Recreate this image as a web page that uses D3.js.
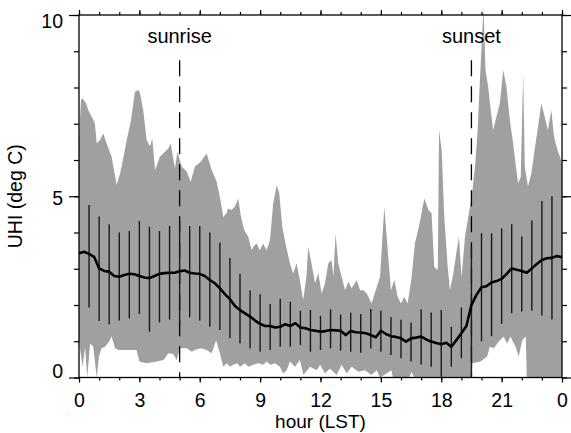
<!doctype html>
<html>
<head>
<meta charset="utf-8">
<script src="https://d3js.org/d3.v7.min.js"></script>
<style>
  body { margin: 0; background: #fff; }
  text { font-family: "Liberation Sans", Arial, sans-serif; fill: #000; }
</style>
</head>
<body>
<script>
// max of the range (top of grey band)
var upperHour = [0, 0.1, 0.18, 0.35, 0.46, 0.63, 0.79, 0.88, 1.04, 1.21, 1.37, 1.62, 1.87, 2.04, 2.12, 2.37, 2.57, 2.78, 2.95, 3.03,
  3.19, 3.36, 3.53, 3.64, 3.78, 4.02, 4.27, 4.44, 4.55, 4.77, 4.89, 5.1, 5.35, 5.55, 5.76, 6.05, 6.34, 6.59, 6.84, 7.0,
  7.17, 7.33, 7.41, 7.58, 7.74, 7.91, 8.05, 8.21, 8.41, 8.58, 8.66, 8.82, 8.99, 9.15, 9.32, 9.49, 9.65, 9.82, 9.95, 10.1,
  10.26, 10.48, 10.64, 10.81, 10.97, 11.14, 11.3, 11.39, 11.55, 11.73, 11.89, 12.06, 12.22, 12.39, 12.55, 12.64, 12.75, 12.88, 13.05, 13.22,
  13.38, 13.55, 13.8, 13.97, 14.13, 14.3, 14.54, 14.74, 14.96, 15.17, 15.34, 15.5, 15.67, 15.83, 16.0, 16.16, 16.33, 16.53, 16.69, 16.89,
  17.16, 17.36, 17.52, 17.65, 17.77, 17.83, 17.89, 18.02, 18.15, 18.32, 18.43, 18.6, 18.77, 18.88, 19.01, 19.18, 19.34, 19.51, 19.68, 19.81,
  19.93, 20.01, 20.1, 20.2, 20.33, 20.46, 20.58, 20.74, 20.91, 21.08, 21.24, 21.41, 21.57, 21.69, 21.82, 21.95, 22.07, 22.15, 22.31, 22.48,
  22.64, 22.81, 22.97, 23.14, 23.3, 23.47, 23.6, 23.77, 23.9, 24];
var upperVal = [6.6, 7.66, 7.7, 7.56, 7.38, 7.19, 7.01, 6.46, 6.55, 6.73, 6.46, 6.09, 5.31, 5.63, 5.82, 6.55, 7.05, 7.88, 7.93, 7.84,
  7.38, 6.55, 6.37, 6.6, 5.72, 6.09, 6.23, 6.32, 6.46, 5.77, 6.23, 5.82, 5.68, 5.4, 5.82, 5.95, 6.18, 5.73, 5.4, 4.98,
  4.43, 4.53, 4.66, 4.62, 4.71, 4.94, 4.43, 4.07, 3.88, 3.51, 3.61, 3.7, 3.51, 3.7, 3.51, 3.79, 4.8, 5.3, 5.08, 4.16,
  3.7, 3.15, 2.87, 3.15, 2.69, 2.14, 2.78, 3.61, 3.15, 2.6, 2.88, 2.32, 2.6, 3.15, 3.24, 2.78, 3.97, 3.15, 2.78, 2.41,
  2.64, 2.46, 2.69, 2.41, 2.41, 2.32, 2.04, 2.41, 2.78, 4.71, 3.51, 2.41, 2.69, 2.23, 2.04, 2.23, 2.04, 2.78, 3.7, 4.16,
  4.94, 4.62, 4.53, 3.06, 2.97, 3.0, 6.83, 6.28, 4.43, 3.06, 2.41, 2.87, 3.51, 3.88, 2.78, 3.88, 4.43, 4.98, 5.82, 6.83,
  8.3, 9.2, 10.2, 8.48, 8.02, 7.38, 6.83, 7.19, 7.56, 8.48, 8.02, 7.1, 6.46, 5.91, 5.36, 5.54, 8.39, 5.82, 5.27, 5.64,
  6.28, 6.92, 7.56, 7.19, 6.83, 7.38, 6.65, 6.28, 6.09, 5.9];

// min of the range (bottom of grey band)
var lowerHour = [0, 0.18, 0.3, 0.41, 0.55, 0.71, 0.88, 0.99, 1.12, 1.29, 1.5, 1.62, 1.79, 1.97, 2.86, 3.0, 3.36, 3.86, 4.2, 4.44,
  4.69, 4.85, 5.02, 5.35, 5.6, 5.85, 6.1, 6.34, 6.59, 6.81, 7.0, 7.17, 7.34, 7.5, 7.67, 7.87, 8.0, 8.25, 8.41, 8.66,
  8.91, 9.16, 9.32, 9.52, 9.74, 9.98, 10.15, 10.32, 10.48, 10.73, 10.98, 11.15, 11.48, 11.81, 11.98, 12.22, 12.47, 12.8, 13.05, 13.3,
  13.55, 13.88, 14.21, 14.54, 14.79, 14.96, 15.52, 15.6, 16.4, 16.53, 16.65, 19.5, 19.55, 19.95, 20.28, 20.41, 20.61, 20.86, 21.1, 21.27,
  21.44, 21.69, 21.85, 22.02, 22.2, 22.25, 24];
var lowerVal = [1.0, 0.3, 0.85, 0.0, 0.94, 0.85, 0.0, 0.58, 0.81, 0.85, 0.99, 1.13, 0.81, 0.76, 0.76, 0.44, 0.39, 0.44, 0.48, 0.67,
  0.65, 0.48, 0.81, 0.81, 0.71, 0.78, 0.81, 0.76, 0.67, 1.03, 0.67, 0.3, 0.39, 0.3, 0.35, 0.39, 0.3, 0.39, 0.3, 0.35,
  0.39, 0.35, 0.44, 0.35, 0.39, 0.3, 0.11, 0.2, 0.44, 0.3, 0.48, 0.07, 0.3, 0.2, 0.35, 0.11, 0.25, 0.07, 0.35, 0.11,
  0.3, 0.16, 0.2, 0.07, 0.2, 0.0, 0.2, 0.0, 0.0, 0.15, 0.0, 0.0, 0.39, 0.44, 0.58, 0.85, 0.81, 0.99, 1.13, 0.94,
  1.13, 0.85, 0.58, 1.03, 1.13, 0.0, 0.0];

// mean UHI
var meanHour = d3.range(0, 24.01, 0.25);
var meanVal = [3.43, 3.47, 3.41, 3.33, 3.01, 2.94, 2.92, 2.8, 2.78, 2.83, 2.86, 2.85, 2.8, 2.76, 2.74, 2.8, 2.86, 2.88, 2.89, 2.89,
  2.93, 2.95, 2.89, 2.87, 2.86, 2.8, 2.69, 2.6, 2.46, 2.3, 2.16, 1.97, 1.86, 1.77, 1.68, 1.57, 1.48, 1.42, 1.42, 1.38,
  1.4, 1.47, 1.42, 1.5, 1.38, 1.36, 1.31, 1.29, 1.26, 1.28, 1.31, 1.3, 1.29, 1.17, 1.28, 1.25, 1.24, 1.22, 1.17, 1.11,
  1.29, 1.2, 1.14, 1.12, 1.08, 0.99, 1.08, 1.1, 1.13, 1.05, 0.99, 0.95, 0.92, 0.96, 0.85, 1.03, 1.22, 1.42, 2.0, 2.28,
  2.49, 2.52, 2.62, 2.66, 2.72, 2.86, 3.01, 2.97, 2.94, 2.89, 3.01, 3.13, 3.24, 3.29, 3.3, 3.35, 3.32];

// error bars (every half hour)
var errHour = [0.5, 1, 1.5, 2, 2.5, 3, 3.5, 4, 4.5, 5, 5.5, 6, 6.5, 7, 7.5, 8, 8.5, 9, 9.5, 10,
  10.5, 11, 11.5, 12, 12.5, 13, 13.5, 14, 14.5, 15, 15.5, 16, 16.5, 17, 17.5, 18, 18.5, 19, 19.5, 20,
  20.5, 21, 21.5, 22, 22.5, 23, 23.5];
var errTop = [4.76, 4.44, 4.23, 4.0, 4.04, 4.32, 4.16, 4.04, 4.18, 4.3, 4.18, 4.18, 4.0, 3.72, 3.3, 2.86, 2.4, 2.3, 2.03, 2.17,
  2.09, 1.84, 1.86, 1.7, 1.88, 1.74, 1.79, 1.75, 1.89, 1.84, 1.66, 1.59, 1.52, 1.88, 1.79, 1.86, 1.4, 1.93, 3.6, 3.98,
  3.98, 4.11, 4.23, 3.89, 4.33, 4.87, 5.0];
var errBot = [1.93, 1.56, 1.47, 1.57, 1.63, 1.75, 1.26, 1.52, 1.6, 1.4, 1.66, 1.57, 1.4, 1.31, 1.08, 0.94, 0.8, 0.71, 0.76, 0.85,
  0.85, 0.9, 0.71, 0.76, 0.8, 0.74, 0.71, 0.68, 0.8, 0.71, 0.62, 0.53, 0.44, 0.36, 0.3, 0.02, 0.3, 0.53, 0.0, 1.0,
  1.14, 1.48, 1.77, 1.82, 1.84, 1.71, 1.6];

var sunHour = [5, 19.5];
var sunLabel = ["sunrise", "sunset"];

var xTicks = [0, 3, 6, 9, 12, 15, 18, 21, 24];
var xTickLabels = ["0", "3", "6", "9", "12", "15", "18", "21", "0"];
var yTicks = [0, 5, 10];

var width = 571, height = 433;
var margin = {top: 15, right: 9, bottom: 55.5, left: 79};
var w = width - margin.left - margin.right;
var h = height - margin.top - margin.bottom;

var x = d3.scaleLinear().domain([0, 24]).range([0, w]);
var y = d3.scaleLinear().domain([0, 10]).range([h, 0]);

var svg = d3.select("body").append("svg")
    .attr("width", width)
    .attr("height", height);

var g = svg.append("g")
    .attr("transform", "translate(" + margin.left + "," + margin.top + ")");

// grey band: upper edge left to right, then lower edge back
var upper = upperHour.map(function(d, i) { return [d, upperVal[i]]; });
var lower = lowerHour.map(function(d, i) { return [d, lowerVal[i]]; });
var band = upper.concat(lower.slice().reverse());

var line = d3.line()
    .x(function(d) { return x(d[0]); })
    .y(function(d) { return y(d[1]); });

g.append("path")
    .attr("d", line(band) + "Z")
    .attr("fill", "#a0a0a0")
    .attr("stroke", "none");

// sunrise / sunset
g.selectAll(".sun")
    .data(sunHour)
    .enter().append("line")
    .attr("x1", function(d) { return x(d); })
    .attr("x2", function(d) { return x(d); })
    .attr("y1", y(8.75))
    .attr("y2", h)
    .attr("stroke", "#000")
    .attr("stroke-width", 1.3)
    .attr("stroke-dasharray", "16,10");

g.selectAll(".sunlab")
    .data(sunHour)
    .enter().append("text")
    .attr("x", function(d) { return x(d); })
    .attr("y", 28)
    .attr("text-anchor", "middle")
    .style("font-size", "20px")
    .text(function(d, i) { return sunLabel[i]; });

// error bars
g.selectAll(".err")
    .data(errHour)
    .enter().append("line")
    .attr("x1", function(d) { return x(d); })
    .attr("x2", function(d) { return x(d); })
    .attr("y1", function(d, i) { return y(errTop[i]); })
    .attr("y2", function(d, i) { return y(errBot[i]); })
    .attr("stroke", "#1a1a1a")
    .attr("stroke-width", 1.4);

// mean line
var mean = meanHour.map(function(d, i) { return [d, meanVal[i]]; });
g.append("path")
    .attr("d", line(mean))
    .attr("fill", "none")
    .attr("stroke", "#000")
    .attr("stroke-width", 2.6)
    .attr("stroke-linejoin", "round");

// axes: minor and major ticks on all four sides
function styleAxis(sel) {
  sel.select(".domain").remove();
  sel.selectAll("line").attr("stroke", "#000").attr("stroke-width", 1.2);
  sel.selectAll("text").style("font-size", "19.5px").attr("fill", "#000");
}

var hourTicks = d3.range(0, 25, 1);
var unitTicks = d3.range(0, 11, 1);

g.append("g").attr("transform", "translate(0," + h + ")")
    .call(d3.axisBottom(x).tickValues(hourTicks).tickSize(3).tickSizeOuter(0).tickFormat(""))
    .call(styleAxis);
g.append("g").attr("transform", "translate(0," + h + ")")
    .call(d3.axisBottom(x).tickValues(xTicks).tickSize(5).tickSizeOuter(0).tickPadding(10.5)
      .tickFormat(function(d, i) { return xTickLabels[i]; }))
    .call(styleAxis);

g.append("g")
    .call(d3.axisTop(x).tickValues(hourTicks).tickSize(3).tickSizeOuter(0).tickFormat(""))
    .call(styleAxis);
g.append("g")
    .call(d3.axisTop(x).tickValues(xTicks).tickSize(5).tickSizeOuter(0).tickFormat(""))
    .call(styleAxis);

g.append("g")
    .call(d3.axisLeft(y).tickValues(unitTicks).tickSize(5).tickSizeOuter(0).tickFormat(""))
    .call(styleAxis);
var yAx = g.append("g")
    .call(d3.axisLeft(y).tickValues(yTicks).tickSize(10).tickSizeOuter(0).tickPadding(6).tickFormat(d3.format("d")))
    .call(styleAxis);
// IDL-like placement: 0 sits above its tick, 10 hangs below
yAx.selectAll("text").attr("dy", function(d) { return d === 0 ? "0px" : (d === 10 ? "12.5px" : "8px"); });

g.append("g").attr("transform", "translate(" + w + ",0)")
    .call(d3.axisRight(y).tickValues(unitTicks).tickSize(5).tickSizeOuter(0).tickFormat(""))
    .call(styleAxis);
g.append("g").attr("transform", "translate(" + w + ",0)")
    .call(d3.axisRight(y).tickValues(yTicks).tickSize(10).tickSizeOuter(0).tickFormat(""))
    .call(styleAxis);

g.append("rect")
    .attr("width", w)
    .attr("height", h)
    .attr("fill", "none")
    .attr("stroke", "#000")
    .attr("stroke-width", 1.3);

// axis titles
svg.append("text")
    .attr("x", margin.left + w / 2)
    .attr("y", 428)
    .attr("text-anchor", "middle")
    .style("font-size", "19px")
    .text("hour (LST)");

svg.append("text")
    .attr("transform", "translate(21.5," + (margin.top + h / 2) + ") rotate(-90)")
    .attr("text-anchor", "middle")
    .style("font-size", "19.5px")
    .text("UHI (deg C)");
</script>
</body>
</html>
